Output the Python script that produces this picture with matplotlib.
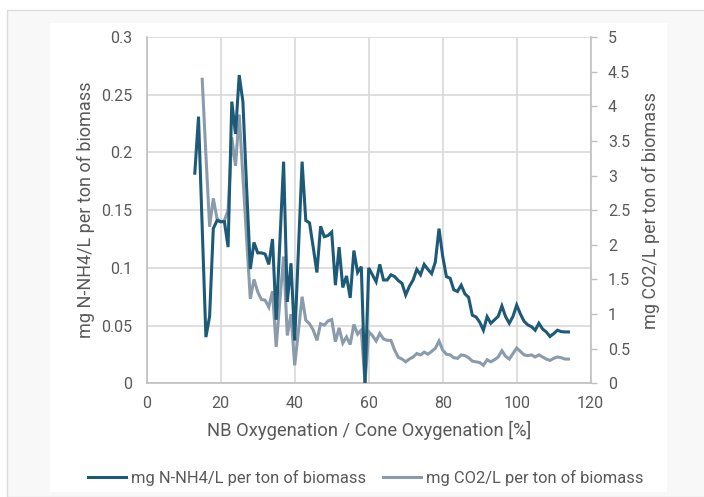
import numpy as np
import matplotlib
matplotlib.use('Agg')
import matplotlib.pyplot as plt
from matplotlib.patches import Rectangle

plt.rcParams['font.family'] = ['Roboto', 'DejaVu Sans']

# x axis: NB oxygenation / cone oxygenation [%]
oxygenation = [13, 14, 15, 16, 17, 18, 19, 20, 21, 22,
               23, 24, 25, 26, 27, 28, 29, 30, 31, 32,
               33, 34, 35, 36, 37, 38, 39, 40, 41, 42,
               43, 44, 45, 46, 47, 48, 49, 50, 51, 52,
               53, 54, 55, 56, 57, 58, 59, 60, 61, 62,
               63, 64, 65, 66, 67, 68, 69, 70, 71, 72,
               73, 74, 75, 76, 77, 78, 79, 80, 81, 82,
               83, 84, 85, 86, 87, 88, 89, 90, 91, 92,
               93, 94, 95, 96, 97, 98, 99, 100, 101, 102,
               103, 104, 105, 106, 107, 108, 109, 110, 111, 112,
               113, 114]

# mg N-NH4/L per ton of biomass (left axis)
nh4 = [0.182, 0.231, 0.135, 0.040, 0.058, 0.134, 0.141, 0.140, 0.140, 0.118,
       0.244, 0.216, 0.267, 0.244, 0.170, 0.099, 0.122, 0.113, 0.113, 0.112,
       0.103, 0.125, 0.055, 0.123, 0.192, 0.0705, 0.104, 0.037, 0.115, 0.192,
       0.141, 0.139, 0.118, 0.096, 0.136, 0.127, 0.128, 0.131, 0.085, 0.118,
       0.083, 0.093, 0.074, 0.115, 0.096, 0.101, 0.0, 0.100, 0.094, 0.088,
       0.103, 0.0895, 0.0895, 0.094, 0.0925, 0.089, 0.0866, 0.0765, 0.084, 0.0895,
       0.0987, 0.094, 0.103, 0.0987, 0.095, 0.105, 0.134, 0.110, 0.0924, 0.091,
       0.081, 0.0795, 0.085, 0.0775, 0.0745, 0.059, 0.0575, 0.053, 0.046, 0.0577,
       0.052, 0.055, 0.058, 0.067, 0.0577, 0.052, 0.058, 0.0678, 0.060, 0.0537,
       0.0506, 0.049, 0.046, 0.052, 0.047, 0.0445, 0.0405, 0.043, 0.046, 0.0448,
       0.0445, 0.0445]

# mg CO2/L per ton of biomass (right axis)
co2 = [np.nan, np.nan, 4.39, 3.30, 2.26, 2.67, 2.38, 2.33, 2.35, 2.50,
       3.55, 3.14, 3.88, 2.99, 2.10, 1.22, 1.50, 1.32, 1.21, 1.20,
       1.10, 1.33, 0.525, 1.20, 1.83, 0.69, 1.00, 0.26, 0.75, 1.25,
       0.91, 0.86, 0.77, 0.62, 0.86, 0.84, 0.90, 0.92, 0.60, 0.80,
       0.58, 0.67, 0.56, 0.85, 0.71, 0.77, 0.0, 0.745, 0.69, 0.61,
       0.72, 0.64, 0.62, 0.62, 0.48, 0.375, 0.35, 0.31, 0.35, 0.38,
       0.43, 0.41, 0.45, 0.42, 0.46, 0.505, 0.61, 0.48, 0.42, 0.41,
       0.37, 0.36, 0.41, 0.40, 0.37, 0.32, 0.31, 0.30, 0.26, 0.34,
       0.31, 0.34, 0.38, 0.47, 0.39, 0.35, 0.43, 0.51, 0.46, 0.41,
       0.40, 0.41, 0.38, 0.41, 0.38, 0.35, 0.33, 0.36, 0.38, 0.37,
       0.35, 0.35]

x_ticks = [0, 20, 40, 60, 80, 100, 120]
left_ticks = [0, 0.05, 0.1, 0.15, 0.2, 0.25, 0.3]
left_labels = ['0', '0.05', '0.1', '0.15', '0.2', '0.25', '0.3']
right_ticks = [0, 0.5, 1, 1.5, 2, 2.5, 3, 3.5, 4, 4.5, 5]
right_labels = ['0', '0.5', '1', '1.5', '2', '2.5', '3', '3.5', '4', '4.5', '5']

dark = '#1d5a78'
grey = '#8a9bac'
txt = '#595959'
gridc = '#d9d9d9'

fig = plt.figure(figsize=(7.04, 4.97), dpi=100, facecolor='white')
W, H = 704, 497
# screenshot frame + white chart area
fig.patches.append(Rectangle((7 / W, 0), 1, 1 - 10 / H, transform=fig.transFigure,
                             facecolor='#f8f8f8', edgecolor='#dcdcdc', lw=1, zorder=-20))
fig.patches.append(Rectangle((50 / W, 1 - 492 / H), (667 - 50) / W, (492 - 23) / H,
                             transform=fig.transFigure, facecolor='white',
                             edgecolor='none', zorder=-10))

ax = fig.add_axes([146.7 / W, 1 - 383.3 / H, (590.7 - 146.7) / W, (383.3 - 37) / H])
ax.set_facecolor('none')
ax2 = ax.twinx()

ax.set_xlim(0, 120)
ax.set_ylim(0, 0.3)
ax2.set_ylim(0, 5)

ax.set_xticks(x_ticks)
ax.set_yticks(left_ticks)
ax.set_yticklabels(left_labels)
ax2.set_yticks(right_ticks)
ax2.set_yticklabels(right_labels)

ax.grid(True, color=gridc, linewidth=1.2)
ax.set_axisbelow(True)

for s in ['top', 'right']:
    ax.spines[s].set_visible(False)
for s in ['top', 'left', 'bottom']:
    ax2.spines[s].set_visible(False)
ax.spines['left'].set_color('#bfbfbf')
ax.spines['bottom'].set_color('#bfbfbf')
ax2.spines['right'].set_color('#bfbfbf')
for sp in [ax.spines['left'], ax.spines['bottom'], ax2.spines['right']]:
    sp.set_linewidth(1.2)

ax.tick_params(axis='y', length=0, labelsize=11.5, labelcolor=txt, pad=10.5)
ax.tick_params(axis='x', length=0, labelsize=11.5, labelcolor=txt, pad=9)
ax2.tick_params(axis='y', length=4, width=1, color='#bfbfbf', labelsize=11.5,
                labelcolor=txt, pad=8.5)

# grey series on secondary axis, dark on primary scale drawn above it
l2, = ax2.plot(oxygenation, co2, color=grey, lw=2.2, label='mg CO2/L per ton of biomass',
               solid_joinstyle='miter')
l1, = ax2.plot(oxygenation, nh4, color=dark, lw=2.2, transform=ax.transData,
               label='mg N-NH4/L per ton of biomass', solid_joinstyle='miter')

ax.set_xlabel('NB Oxygenation / Cone Oxygenation [%]', fontsize=13.2, color=txt, labelpad=7.5)
ax.set_ylabel('mg N-NH4/L per ton of biomass', fontsize=13, color=txt, labelpad=4)
ax2.set_ylabel('mg CO2/L per ton of biomass', fontsize=13, color=txt, labelpad=8)

fig.legend([l1, l2], [l1.get_label(), l2.get_label()], loc='center',
           bbox_to_anchor=(366 / W, 1 - 478 / H), ncol=2, frameon=False,
           fontsize=11.9, labelcolor=txt, handlelength=2.3, handletextpad=0.3,
           columnspacing=1.0)

fig.savefig('out.png', dpi=100, facecolor=fig.get_facecolor())
